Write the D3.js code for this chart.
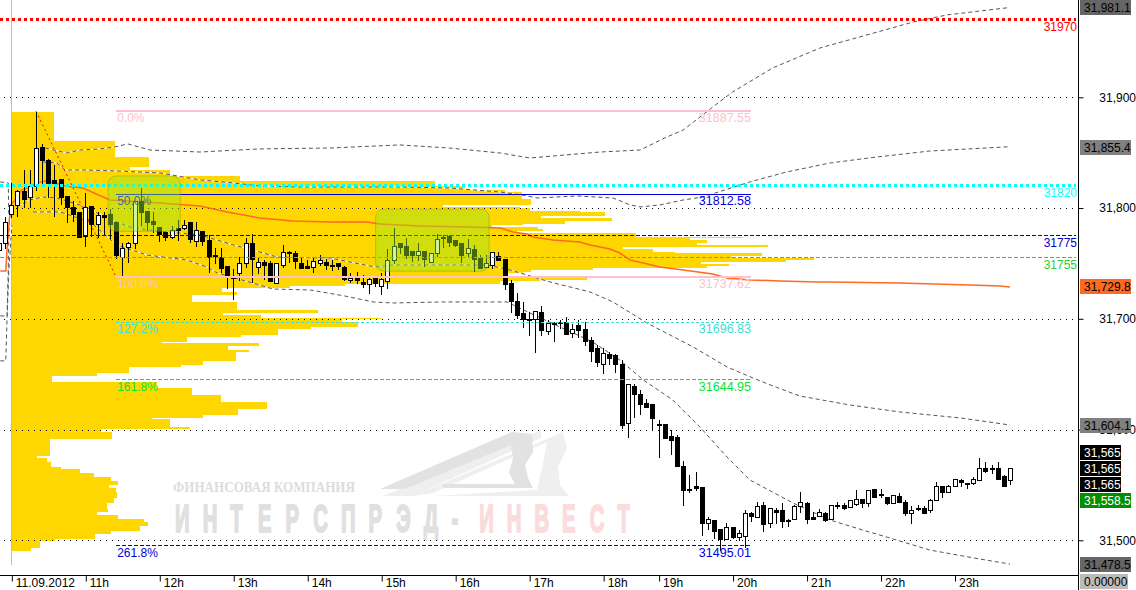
<!DOCTYPE html>
<html><head><meta charset="utf-8">
<script src="https://cdn.jsdelivr.net/npm/d3@7"></script>
<style>html,body{margin:0;padding:0;background:#fff;overflow:hidden}svg{display:block}text{font-family:"Liberation Sans",Arial,sans-serif;font-size:12px}</style>
</head><body><svg id="c" width="1136" height="590"></svg>
<script>
const openP=[31762,31768,31795,31803,31815,31810,31820,31855,31843,31825,31826,31811,31801,31796,31775,31802,31786,31794,31795,31787,31756,31765,31768,31806,31797,31788,31783,31778,31774,31782,31782,31787,31770,31779,31771,31758,31756,31748,31738,31741,31750,31768,31747,31751,31750,31732,31749,31760,31759,31750,31748,31747,31750,31751,31749,31750,31747,31735,31737,31733,31731,31737,31730,31734,31753,31768,31766,31761,31758,31761,31751,31759,31774,31775,31771,31768,31759,31763,31755,31747,31749,31757,31754,31732,31716,31705,31700,31700,31706,31689,31696,31697,31697,31687,31694,31691,31681,31674,31659,31668,31667,31659,31606,31639,31632,31624,31623,31605,31605,31594,31593,31567,31546,31549,31548,31516,31518,31510,31501,31512,31503,31504,31525,31521,31532,31516,31527,31527,31518,31519,31531,31534,31521,31522,31525,31519,31532,31532,31530,31533,31537,31534,31546,31542,31539,31534,31540,31535,31525,31529,31529,31527,31536,31549,31544,31549,31554,31552,31552,31554,31565,31565,31565,31558,31554];
const highP=[31776,31792,31823,31816,31834,31834,31887,31858,31844,31839,31826,31811,31806,31796,31814,31802,31796,31796,31799,31787,31768,31769,31806,31818,31797,31796,31783,31778,31784,31789,31789,31787,31787,31779,31776,31764,31764,31748,31745,31756,31773,31777,31756,31753,31752,31750,31767,31761,31761,31755,31753,31755,31758,31754,31753,31750,31748,31741,31742,31740,31739,31739,31741,31763,31782,31768,31773,31761,31768,31761,31759,31777,31776,31776,31771,31768,31772,31767,31758,31758,31760,31760,31754,31735,31723,31715,31706,31707,31712,31699,31697,31699,31702,31695,31699,31697,31684,31676,31674,31670,31668,31663,31641,31641,31636,31628,31623,31609,31605,31600,31595,31572,31559,31562,31548,31521,31518,31510,31516,31512,31509,31527,31526,31535,31535,31529,31529,31534,31519,31532,31544,31535,31526,31528,31526,31532,31535,31534,31536,31545,31537,31545,31546,31546,31539,31541,31543,31536,31531,31532,31531,31537,31553,31549,31550,31555,31555,31552,31557,31574,31571,31568,31571,31559,31565];
const lowP=[31755,31764,31792,31793,31801,31801,31816,31821,31810,31793,31804,31787,31788,31774,31766,31775,31774,31777,31773,31755,31739,31751,31764,31785,31780,31778,31770,31771,31773,31771,31781,31769,31766,31767,31742,31750,31742,31728,31718,31735,31747,31733,31741,31736,31734,31732,31747,31751,31746,31746,31746,31742,31749,31745,31744,31745,31735,31733,31732,31729,31723,31730,31722,31728,31750,31759,31755,31752,31753,31748,31751,31757,31765,31766,31766,31751,31757,31743,31746,31747,31746,31753,31727,31706,31701,31693,31685,31670,31685,31686,31680,31692,31686,31684,31684,31676,31662,31657,31651,31659,31652,31601,31593,31611,31614,31620,31600,31575,31592,31578,31567,31532,31544,31545,31505,31510,31502,31491,31501,31502,31500,31494,31517,31521,31508,31512,31516,31512,31513,31519,31526,31516,31519,31522,31517,31519,31529,31528,31530,31532,31530,31531,31539,31539,31533,31534,31535,31523,31516,31527,31525,31526,31536,31539,31544,31549,31549,31547,31551,31554,31562,31561,31555,31549,31551];
const closeP=[31768,31787,31803,31815,31808,31820,31854,31843,31823,31823,31810,31801,31795,31774,31801,31786,31794,31792,31786,31758,31764,31768,31806,31796,31787,31786,31777,31774,31780,31780,31785,31772,31780,31770,31756,31757,31746,31739,31737,31750,31768,31754,31751,31749,31734,31750,31760,31759,31752,31746,31746,31752,31753,31749,31748,31748,31736,31737,31735,31731,31736,31732,31736,31753,31766,31765,31758,31758,31761,31754,31759,31772,31773,31769,31767,31758,31764,31754,31746,31750,31760,31753,31731,31716,31703,31700,31699,31707,31690,31696,31695,31696,31686,31691,31690,31680,31671,31661,31669,31665,31659,31604,31641,31632,31623,31620,31610,31604,31592,31591,31567,31545,31545,31547,31516,31519,31508,31501,31512,31503,31507,31525,31522,31531,31515,31529,31526,31517,31517,31531,31535,31519,31519,31526,31518,31532,31531,31529,31536,31537,31534,31545,31539,31541,31534,31541,31535,31525,31527,31528,31525,31536,31549,31544,31549,31555,31553,31551,31555,31565,31563,31564,31555,31549,31565];

const profilePrice=[31886.8,31860.6,31846.1,31837.1,31834.4,31829,31824.5,31819.9,31816.3,31814.5,31808.2,31802.8,31801,31800.1,31797.4,31796.5,31792.9,31791,31788.3,31785.6,31784.7,31782.9,31781.1,31779.3,31777.5,31773.9,31773,31771.2,31768.5,31766.7,31764.9,31763,31760.3,31759.4,31756.7,31754.9,31753.1,31751.3,31749.5,31747.7,31745.9,31744.1,31742.3,31741.4,31738.7,31736.9,31735.1,31734.2,31731.4,31729.6,31727.8,31724.2,31721.5,31715.2,31708,31705.3,31703.5,31700.7,31699.8,31697.1,31692.6,31690.8,31685.4,31683.6,31679.1,31678.2,31675.5,31671.9,31670,31661.9,31658.3,31656.5,31651.1,31648.4,31643,31637.5,31631.2,31624.9,31618.6,31613.2,31610.4,31609.5,31602.3,31600.5,31597.8,31591.5,31576.2,31574.3,31570.7,31566.2,31564.4,31560.8,31557.2,31553.6,31549.9,31547.2,31543.6,31538.2,31533.7,31528.3,31525.6,31522.9,31519.2,31516.5,31512.9,31508.4,31505.7,31501.2,31499.4,31493,31490.3];
const profileVolume=[42,103,137,118,158,228,423,453,493,510,519,431,508,518,568,593,529,600,553,511,480,526,531,505,624,731,678,695,685,756,611,641,663,750,720,802,774,689,717,695,581,519,511,496,575,575,528,488,333,278,210,225,180,225,306,211,249,370,330,346,299,266,229,175,150,247,216,237,224,191,169,117,85,40,145,180,209,255,226,191,140,158,178,89,100,38,25,35,39,49,68,82,99,106,97,104,105,102,95,96,85,106,132,136,128,99,83,43,28,19];

const vwapIdx=[0.2,1.1,1.3,1.6,1.9,2.6,3.7,5,6,7.5,9.1,10.7,13.6,18,26.1,32.6,37,42.3,47.7,53.7,59.7,61.8,68.3,75.9,81.3,83.4,85.6,86.6,89.9,94.2,95.9,99.1,100.7,102.4,104.5,107.2,111,115.8,118.1,121.8,126.7,132.7,134.8,146.1,157.5,162.4,164];
const vwapVal=[31743.2,31743.2,31762.2,31784.7,31802.8,31807.3,31816.3,31819,31822.7,31824.5,31822.7,31819.9,31818.1,31807.3,31804.6,31801.9,31796.5,31791,31788.3,31787.4,31787.4,31785.6,31783.8,31782.9,31782,31778.4,31776.6,31773.9,31771.2,31769.4,31766.7,31763,31759.4,31753.1,31750.4,31746.8,31744.1,31740.5,31736.9,31735.1,31734.2,31733.2,31733.2,31732.3,31730.5,31729.6,31728.7];
const bandAIdx=[7.5,11,13.1,16.4,18.8,20.9,24.5,32.6,42.3,53.7,65,73.1,81.3,86.1,91.8,97.5,104,108,111,115.8,119,125.5,133.2,140.8,148.3,153.8,164];
const bandAVal=[31854.2,31849.7,31852.4,31853.4,31855.2,31857.9,31852.4,31850.6,31853.4,31854.2,31857,31854.2,31849.7,31845.2,31847.9,31850.6,31852.4,31863.3,31870.5,31891.3,31904.8,31926.5,31944.6,31956.3,31968,31974.4,31981.1];
const bandBIdx=[7.1,9.4,10.7,13.6,19.1,26.1,32.6,38,42.3,48.8,56.9,65,73.1,81.3,84.8,87.3,93.8,99.6,102.4,104,107.2,111,114.2,121.8,127.8,134.8,142.4,151,164];
const bandBVal=[31841.6,31840.7,31834.4,31834.4,31833.5,31831.7,31825.4,31822.7,31819.9,31819,31819,31819,31818.1,31814.5,31811.8,31809.1,31810.9,31809.1,31802.8,31801,31802.8,31807.3,31810,31823.6,31832.6,31840.7,31846.1,31851.5,31855.4];
const bandCIdx=[2.9,5,7.1,9.4,13.1,19.1,21.7,25.6,32.6,38,42.3,45.1,53.7,61,63.9,79.2,82.9,89.4,95.9,99.6,105.1,112.6,118.1,122.3,125.1,129.9,138,146.1,155.9,164];
const bandCVal=[31801,31807.3,31810,31809.1,31802.8,31787.4,31782,31779.3,31775.7,31766.7,31760.3,31755.8,31754.9,31746.8,31748.6,31748.6,31744.1,31733.2,31724.2,31715.2,31696.2,31674.6,31656.5,31646.6,31640.3,31630.3,31622.2,31615.9,31610.5,31604.1];
const bandDIdx=[5.5,9.9,14.8,19.1,24,30.5,33.7,35.4,42.3,44.4,50.5,56.1,60.7,63.9,72,82.4,86.1,91,96.3,100.7,104.5,109.3,113.7,118.1,121.8,128.8,134.8,140.1,144.5,151,159.1,164];
const bandDVal=[31796.5,31796.5,31787.4,31766.7,31757.6,31753.1,31746.8,31741.4,31730.5,31726.9,31726,31720.6,31715.2,31714.3,31715.2,31715.2,31705.3,31692.6,31679.1,31662.8,31644.8,31626.7,31602.3,31575.2,31554.5,31533.7,31518.3,31509.3,31502.1,31491.2,31483.1,31478.5];
const leftAIdx=[0.2,1.3,1.5,1.6,1.8], leftAVal=[31702.6,31702.6,31744.1,31775.7,31798.3];
const leftBIdx=[0.2,1.1,1.3,1.6,2.1], leftBVal=[31662,31662,31699,31744.1,31784.7];
const leftCIdx=[0.2,1.5,1.6], leftCVal=[31823.6,31822.7,31793.8];

const fibPrice=[31887.55,31812.58,31737.62,31696.83,31644.95,31495.01];
const fibPct=["0.0%","50.0%","100.0%","127.2%","161.8%","261.8%"];
const fibColor=["#ffc0cb","#0000e0","#ffc0cb","#40e0d0","#00e633","#0000e0"];
const fibWidth=[2,1,2,1,1,1];
const fibDash=["","","","3,2","4,2","4,2"];
const levelPrice=[31970,31820,31775,31755];
const levelColor=["#ff0000","#00ffff","#0000c8","#32cd32"];
const levelWidth=[3,3,1,1];
const levelDash=["3,3","3,3","4,2","4,2"];
const axisTicks=[31900,31800,31700,31600,31500];
const timeTicks=[2,14,26,38,50,62,74,86,98,107,119,131,143,155];
const timeLabels=["11.09.2012","11h","12h","13h","14h","15h","16h","17h","18h","19h","20h","21h","22h","23h"];
const tagText=["31,981.1","31,855.4","31,729.8","31,604.1","31,565","31,565","31,565","31,558.5","31,478.5","0.00000"];
const tagFill=["#666666","#808080","#ff6a1f","#808080","#000000","#000000","#000000","#008f00","#666666","#bbbbbb"];
const tagInk=["#000","#000","#000","#000","#fff","#fff","#fff","#fff","#000","#000"];
const tagTop=[0,140,279,418,445,461,477,493,557,574];
const tagWide=[51,51,51,51,41,41,41,51,51,48];
const watermarkTop="ФИНАНСОВАЯ КОМПАНИЯ";
const watermarkGrey="ИНТЕРСПРЭД-";
const watermarkPink="ИНВЕСТ";

const W=1136,H=590,axisX=1078,axisY=575;
const x=d3.scaleLinear().domain([0,164]).range([-1,1010]);
const y=d3.scaleLinear().domain([31900,31500]).range([97.3,540.3]);
const px=d3.scaleLinear().domain([0,802]).range([12,814]);
const svg=d3.select("#c");
const ln=d3.line().x(d=>x(d[0])).y(d=>y(d[1]));
const zip=(a,b)=>a.map((v,i)=>[v,b[i]]);

/* watermark */
const wm=svg.append("g");
wm.append("path").attr("fill","#efefef").attr("d","M383,496L537,432L541,429L541,438L413,496ZM413,496L563,432L567,448L558,467L560,485L569,496L433,496L537,490L542,468L547,442L433,493Z");
wm.append("path").attr("fill","#e2e2e2").attr("d","M380,489L512,432L532,434L533,452L525,465L528,478L533,488L443,488L443,484L515,484L509,473L513,458L511,445L405,489Z");
wm.append("text").attr("x",173).attr("y",492).attr("textLength",182).attr("lengthAdjust","spacingAndGlyphs").attr("fill","#dcdcdc").style("font-family","'Liberation Serif',serif").style("font-size","14px").style("font-weight","bold").text(watermarkTop);
const sx=0.52, step=27.65/sx;
const big=wm.append("text").attr("transform",`translate(175,532) scale(${sx},1)`).style("font-size","39px").style("font-weight","bold").attr("stroke-width",2);
big.append("tspan").attr("fill","#e0e0e0").attr("stroke","#e0e0e0").attr("x",d3.range(watermarkGrey.length).map(i=>i*step).join(" ")).text(watermarkGrey);
big.append("tspan").attr("fill","#fbdcdc").attr("stroke","#fbdcdc").attr("x",d3.range(watermarkPink.length).map(i=>(i+watermarkGrey.length)*step).join(" ")).text(watermarkPink);

/* volume profile */
svg.append("g").selectAll("rect").data(profileVolume).join("rect")
 .attr("x",px(0)).attr("width",d=>px(d)-px(0))
 .attr("y",(d,i)=>Math.round(y(profilePrice[i])))
 .attr("height",(d,i)=>Math.round(y(profilePrice[i+1]))-Math.round(y(profilePrice[i])))
 .attr("fill","#ffd700").attr("shape-rendering","crispEdges");
svg.append("line").attr("x1",11.5).attr("x2",11.5).attr("y1",0).attr("y2",565).attr("stroke","#bdbdbd");

/* grid */
svg.append("g").selectAll("line").data(axisTicks).join("line")
 .attr("x1",4).attr("x2",axisX).attr("y1",d=>Math.round(y(d))+.5).attr("y2",d=>Math.round(y(d))+.5)
 .attr("stroke","#000").attr("stroke-dasharray","1,5").attr("shape-rendering","crispEdges");

/* bands + vwap */
const bands=[zip(bandAIdx,bandAVal),zip(bandBIdx,bandBVal),zip(bandCIdx,bandCVal),zip(bandDIdx,bandDVal),zip(leftAIdx,leftAVal),zip(leftBIdx,leftBVal),zip(leftCIdx,leftCVal)];
const bg=svg.append("g").attr("fill","none");
bg.selectAll(".h").data(bands).join("path").attr("class","h").attr("d",ln).attr("stroke","#fff").attr("stroke-width",1);
bg.selectAll(".d").data(bands).join("path").attr("class","d").attr("d",ln).attr("stroke","#555").attr("stroke-width",1).attr("stroke-dasharray","4,3");
svg.append("path").datum(zip(vwapIdx,vwapVal)).attr("d",ln).attr("fill","none").attr("stroke","#ff6a1f").attr("stroke-width",1.5);

/* red trend */
svg.append("path").datum([[6,31887.55],[19,31737.62]]).attr("d",ln).attr("fill","none").attr("stroke","#ff0000").attr("stroke-width",1).attr("stroke-dasharray","2,3");

/* candles */
const cg=svg.append("g").attr("shape-rendering","crispEdges");
const cs=openP.map((o,i)=>({i,o,h:highP[i],l:lowP[i],c:closeP[i]}));
const cx=d=>Math.round(x(d.i))+.5;
cg.selectAll("line").data(cs).join("line").attr("x1",cx).attr("x2",cx).attr("y1",d=>Math.round(y(d.h))).attr("y2",d=>Math.round(y(d.l))+1).attr("stroke","#000");
cg.selectAll("rect").data(cs).join("rect")
 .attr("x",d=>cx(d)-2).attr("width",4)
 .attr("y",d=>Math.round(y(Math.max(d.o,d.c)))+.5)
 .attr("height",d=>Math.max(1,Math.round(y(Math.min(d.o,d.c)))-Math.round(y(Math.max(d.o,d.c)))))
 .attr("fill",d=>d.c>=d.o?"#fff":"#000").attr("stroke","#000");

/* levels */
const lg=svg.append("g").attr("shape-rendering","crispEdges");
lg.selectAll("line").data(levelPrice).join("line").attr("x1",0).attr("x2",1076)
 .attr("y1",(d,i)=>Math.floor(y(d))+.5).attr("y2",(d,i)=>Math.floor(y(d))+.5)
 .attr("stroke",(d,i)=>levelColor[i]).attr("stroke-width",(d,i)=>levelWidth[i]).attr("stroke-dasharray",(d,i)=>levelDash[i]);
svg.append("g").selectAll("text").data(levelPrice).join("text").attr("x",1077).attr("y",d=>y(d)+11.5).attr("text-anchor","end")
 .attr("fill",(d,i)=>levelColor[i]).text(d=>d);

/* fib */
const fg=svg.append("g").attr("shape-rendering","crispEdges");
fg.selectAll("line").data(fibPrice).join("line").attr("x1",x(19)).attr("x2",751)
 .attr("y1",d=>Math.floor(y(d))).attr("y2",d=>Math.floor(y(d)))
 .attr("stroke",(d,i)=>fibColor[i]).attr("stroke-width",(d,i)=>fibWidth[i]).attr("stroke-dasharray",(d,i)=>fibDash[i]);
const ft=svg.append("g");
ft.selectAll(".p").data(fibPrice).join("text").attr("class","p").attr("x",x(19)+1).attr("y",d=>y(d)+11).attr("fill",(d,i)=>fibColor[i]).text((d,i)=>fibPct[i]);
ft.selectAll(".v").data(fibPrice).join("text").attr("class","v").attr("x",751).attr("y",d=>y(d)+11).attr("text-anchor","end").attr("fill",(d,i)=>fibColor[i]).style("font-size","12.5px").text(d=>d);

/* highlight boxes */
const boxIdx=[[17.7,29.4],[61.1,79.5]], boxVal=[[31829,31779],[31799,31743]];
svg.append("g").selectAll("rect").data(boxIdx).join("rect")
 .attr("x",d=>x(d[0])).attr("width",d=>x(d[1])-x(d[0]))
 .attr("y",(d,i)=>y(boxVal[i][0])).attr("height",(d,i)=>y(boxVal[i][1])-y(boxVal[i][0]))
 .attr("rx",8).attr("fill","rgb(150,230,30)").attr("fill-opacity",.45).attr("stroke","#8a9a00").attr("stroke-opacity",.45);

/* axes */
svg.append("rect").attr("x",0).attr("y",axisY+1).attr("width",axisX).attr("height",H-axisY).attr("fill","#fff");
svg.append("rect").attr("x",axisX).attr("y",0).attr("width",W-axisX).attr("height",H).attr("fill","#fff");
const ay=svg.append("g").attr("transform",`translate(${axisX+.5},0)`).call(d3.axisRight(y).tickValues(axisTicks).tickSize(5).tickFormat(d3.format(",")));
ay.select(".domain").remove();
ay.append("line").attr("y1",0).attr("y2",H).attr("stroke","#000");
ay.selectAll("text").attr("x",57.5).attr("text-anchor","end").attr("fill","#000").style("font-family",'"Liberation Sans",Arial,sans-serif').style("font-size","12px");
const ax=svg.append("g").attr("transform",`translate(0,${axisY+.5})`).call(d3.axisBottom(x).tickValues(timeTicks).tickSize(6).tickFormat((d,i)=>timeLabels[i]));
ax.select(".domain").remove();
ax.append("line").attr("x1",0).attr("x2",axisX).attr("stroke","#000");
ax.selectAll(".tick line").attr("transform","translate(0.5,0)");
ax.selectAll("text").attr("x",4).attr("y",3).attr("text-anchor","start").attr("fill","#000").style("font-family",'"Liberation Sans",Arial,sans-serif').style("font-size","12px").attr("dy","0.71em");

/* price tags */
const tg=svg.append("g");
tg.selectAll("rect").data(tagText).join("rect").attr("x",1080).attr("y",(d,i)=>tagTop[i]).attr("width",(d,i)=>tagWide[i]).attr("height",15).attr("fill",(d,i)=>tagFill[i]);
tg.selectAll("text").data(tagText).join("text").attr("x",1084).attr("y",(d,i)=>tagTop[i]+12).attr("fill",(d,i)=>tagInk[i]).text(d=>d);
</script></body></html>
